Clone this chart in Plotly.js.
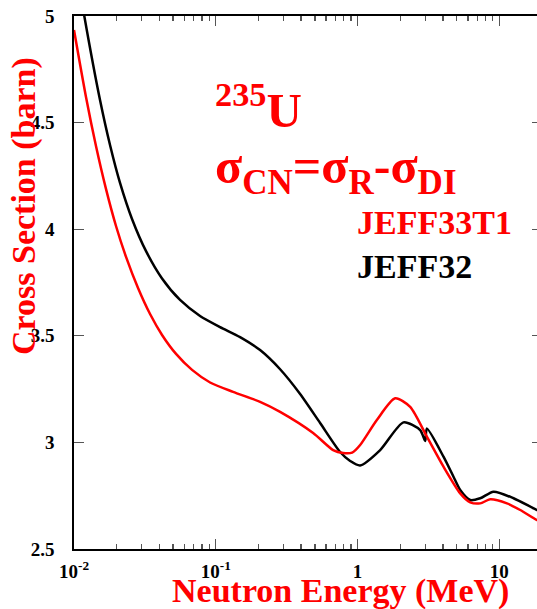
<!DOCTYPE html>
<html>
<head>
<meta charset="utf-8">
<script src="https://cdn.plot.ly/plotly-3.0.1.min.js"></script>
<style>
html, body { margin: 0; padding: 0; overflow: hidden; background: #fff; }
#chart { width: 542px; height: 609px; }
</style>
</head>
<body>
<div id="chart"></div>
<script>
// Neutron energy (MeV) and cross section (barn)
const energyJEFF33T1 = [0.01, 0.01215, 0.01429, 0.01681, 0.01978, 0.02328, 0.02829, 0.03439, 0.04178,
  0.05246, 0.06804, 0.0912, 0.1324, 0.2054, 0.2843, 0.4861, 0.6727, 0.7913, 0.916, 1.043, 1.368,
  1.842, 2.350, 3.083, 4.038, 5.298, 6.233, 7.333, 8.628, 11.32, 14.05, 18.42, 20];
const sigmaJEFF33T1 = [4.934, 4.620, 4.390, 4.189, 4.015, 3.870, 3.724, 3.602, 3.504,
  3.415, 3.340, 3.281, 3.237, 3.190, 3.143, 3.044, 2.964, 2.950, 2.952, 2.988, 3.105,
  3.207, 3.167, 3.027, 2.886, 2.761, 2.719, 2.714, 2.733, 2.714, 2.683, 2.636, 2.630];

const energyJEFF32 = [0.01, 0.01182, 0.01526, 0.01795, 0.02112, 0.02566, 0.03222, 0.04178, 0.05598,
  0.07745, 0.1072, 0.1484, 0.2054, 0.2843, 0.3934, 0.5445, 0.7535, 0.8866, 1.043, 1.444,
  2.108, 2.766, 3.000, 3.083, 4.038, 4.751, 5.298, 6.233, 7.333, 9.101, 12.60, 18.42, 20];
const sigmaJEFF32 = [5.29, 5.0, 4.606, 4.395, 4.217, 4.048, 3.897, 3.769, 3.668,
  3.593, 3.541, 3.494, 3.433, 3.343, 3.227, 3.091, 2.955, 2.913, 2.892, 2.964,
  3.094, 3.058, 3.007, 3.065, 2.933, 2.839, 2.777, 2.730, 2.738, 2.769, 2.738, 2.683, 2.675];

const xTickVals = [0.01, 0.1, 1, 10];
const xTickText = ['10<sup>-2</sup>', '10<sup>-1</sup>', '1', '10'];
const yTickVals = [2.5, 3, 3.5, 4, 4.5, 5];
const yTickText = ['2.5', '3', '3.5', '4', '4.5', '5'];

const seriesNames = ['JEFF33T1', 'JEFF32'];
const xTitle = 'Neutron Energy (MeV)';
const yTitle = 'Cross Section (barn)';
const nucleusLabel = '<sup>235</sup>U';
const formulaLabel = 'σ<sub>CN</sub>=σ<sub>R</sub>-σ<sub>DI</sub>';

const FONT = '"Liberation Serif", "Times New Roman", serif';
const RED = '#ff0000';

// plot area in pixels: left 74, right 542, top 16, bottom 549
const L = 74, R = 542, T = 16, B = 549;
const px = v => (v - L) / (R - L);
const py = v => (B - v) / (B - T);

const traces = [
  { x: energyJEFF32, y: sigmaJEFF32, name: seriesNames[1], mode: 'lines',
    line: { color: '#000000', width: 2.5, shape: 'spline', smoothing: 0.7 } },
  { x: energyJEFF33T1, y: sigmaJEFF33T1, name: seriesNames[0], mode: 'lines',
    line: { color: RED, width: 2.5, shape: 'spline', smoothing: 0.7 } }
];

const tickFont = { family: FONT, size: 19, color: '#000', weight: 'bold' };

const layout = {
  width: 542, height: 609,
  margin: { l: L, r: 542 - R, t: T, b: 609 - B, pad: 0 },
  paper_bgcolor: '#fff', plot_bgcolor: '#fff',
  showlegend: false,
  xaxis: {
    type: 'log', range: [-2, Math.log10(20)],
    tickvals: xTickVals, ticktext: xTickText,
    ticks: 'inside', ticklen: 10, tickwidth: 1.3, tickcolor: '#555',
    minor: { dtick: 'D1', ticks: 'inside', ticklen: 5, tickwidth: 1.3, tickcolor: '#555', showgrid: false },
    showline: true, linecolor: '#000', linewidth: 1.6, mirror: 'allticks',
    showgrid: false, zeroline: false,
    tickfont: tickFont, ticklabelstandoff: 5
  },
  yaxis: {
    range: [2.5, 5],
    tickvals: yTickVals, ticktext: yTickText,
    ticks: 'inside', ticklen: 10, tickwidth: 1.3, tickcolor: '#555',
    showline: true, linecolor: '#000', linewidth: 1.6, mirror: 'allticks',
    showgrid: false, zeroline: false,
    tickfont: tickFont, ticklabelstandoff: 14
  },
  annotations: [
    { text: xTitle, xref: 'paper', yref: 'paper', x: px(340), y: py(591),
      xanchor: 'center', yanchor: 'middle', showarrow: false,
      font: { family: FONT, size: 34, color: RED, weight: 'bold' } },
    { text: yTitle, xref: 'paper', yref: 'paper', x: px(24), y: py(206),
      xanchor: 'center', yanchor: 'middle', showarrow: false, textangle: -90,
      font: { family: FONT, size: 34, color: RED, weight: 'bold' } },
    { text: nucleusLabel, xref: 'paper', yref: 'paper', x: px(213), y: py(106),
      xanchor: 'left', yanchor: 'middle', showarrow: false,
      font: { family: FONT, size: 49, color: RED, weight: 'bold' } },
    { text: formulaLabel, xref: 'paper', yref: 'paper', x: px(213), y: py(170),
      xanchor: 'left', yanchor: 'middle', showarrow: false,
      font: { family: FONT, size: 50, color: RED, weight: 'bold' } },
    { text: seriesNames[0], xref: 'paper', yref: 'paper', x: px(355), y: py(222),
      xanchor: 'left', yanchor: 'middle', showarrow: false,
      font: { family: FONT, size: 34, color: RED, weight: 'bold' } },
    { text: seriesNames[1], xref: 'paper', yref: 'paper', x: px(355), y: py(266),
      xanchor: 'left', yanchor: 'middle', showarrow: false,
      font: { family: FONT, size: 34, color: '#000', weight: 'bold' } }
  ]
};

Plotly.newPlot('chart', traces, layout, { displayModeBar: false, staticPlot: true });
</script>
</body>
</html>
